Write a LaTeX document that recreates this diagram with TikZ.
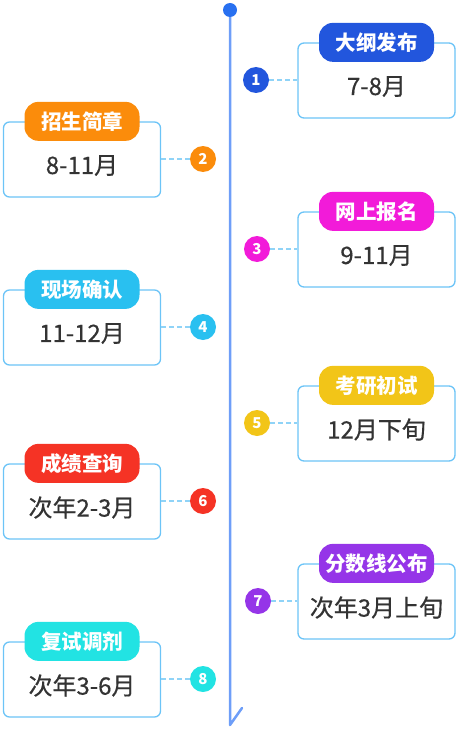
\documentclass[tikz,border=0pt]{standalone}
\usepackage{fontspec}
\newfontfamily\cjk{Noto Sans CJK SC}
\newfontfamily\cjkval[FakeBold=0.5]{Noto Sans CJK SC}
\usetikzlibrary{positioning}

\definecolor{lineblue}{HTML}{6E9EF8}
\definecolor{startblue}{HTML}{2870F0}
\definecolor{boxblue}{HTML}{6CC4F7}
\definecolor{linkblue}{HTML}{8FD3F7}
\definecolor{valgray}{HTML}{333333}
\definecolor{stageA}{HTML}{2256DD}
\definecolor{stageB}{HTML}{FB8C0B}
\definecolor{stageC}{HTML}{F21BD9}
\definecolor{stageD}{HTML}{29C0F0}
\definecolor{stageE}{HTML}{F2C518}
\definecolor{stageF}{HTML}{F53325}
\definecolor{stageG}{HTML}{9535E8}
\definecolor{stageH}{HTML}{22E3E3}

\tikzset{
    timeline/.style={line width=2.5pt, color=lineblue, line cap=round, line join=round},
    stagebox/.style={draw=boxblue, line width=1.3pt, rounded corners=6pt, fill=white,
        minimum width=157pt, minimum height=75pt},
    pill/.style={fill=#1, rounded corners=14pt, minimum width=115pt, minimum height=39pt,
        inner sep=0pt, text=white, font=\cjk\bfseries\fontsize{20.5}{20.5}\selectfont},
    valtext/.style={text=valgray, inner sep=0pt, font=\cjkval\fontsize{24}{24}\selectfont},
    numdot/.style={circle, fill=#1, minimum size=26pt, inner sep=0pt, text=white,
        font=\cjk\bfseries\fontsize{15}{15}\selectfont},
    link/.style={dashed, dash pattern=on 5pt off 3pt, line width=1.2pt, color=linkblue},
}

\begin{document}
\begin{tikzpicture}[x=1pt, y=-1pt]
    \useasboundingbox (0,0) rectangle (460,733);

    % Main timeline
    \coordinate (top) at (230,10);
    \coordinate (end) at (230,725);
    \draw [timeline] (top) -- (end) -- ++(12,-17);
    \node (start) at (top) [circle, fill=startblue, minimum size=14pt, inner sep=0pt] {};

    % Stages
    \foreach \i/\bx/\cx/\ty/\anc/\col/\head/\val in {
        1/376.5/256/43/west/stageA/大纲发布/7-8月,
        2/82/203/122/east/stageB/招生简章/8-11月,
        3/376.5/257/212/west/stageC/网上报名/9-11月,
        4/82/203/290/east/stageD/现场确认/11-12月,
        5/376.5/257/386/west/stageE/考研初试/12月下旬,
        6/82/203/464/east/stageF/成绩查询/次年2-3月,
        7/376.5/258/564/west/stageG/分数线公布/次年3月上旬,
        8/82/203/642/east/stageH/复试调剂/次年3-6月}
    {
        \node [stagebox] (box\i) at (\bx,\ty+37.5) {};
        \node [pill=\col] (head\i) at (box\i.north) {\head};
        \node [valtext] (val\i) at ([yshift=-6pt]box\i.center) {\val};
        \node [numdot=\col] (num\i) at (\cx,\ty+37) {\i};
        \draw [link] (num\i) -- (num\i -| box\i.\anc);
    }
\end{tikzpicture}
\end{document}
